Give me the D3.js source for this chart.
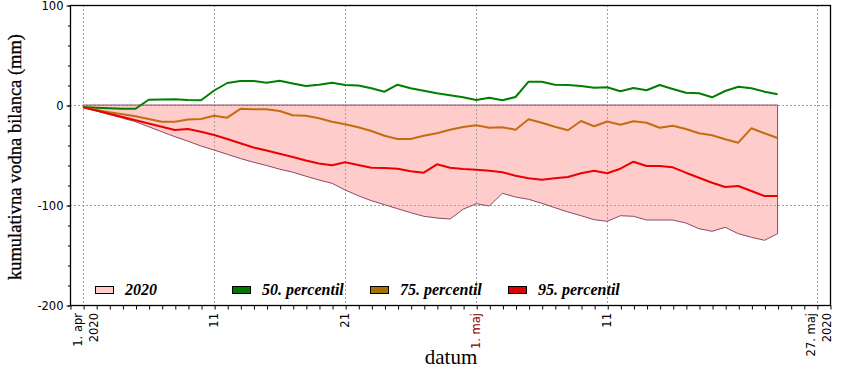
<!DOCTYPE html>
<html>
<head>
<meta charset="utf-8">
<script src="https://cdn.jsdelivr.net/npm/d3@7"></script>
<style>
  body { margin: 0; background: #fff; }
  svg { display: block; }
</style>
</head>
<body>
<div id="graf"></div>
<script>
// podatki: 1. apr 2020 .. 24. maj 2020, en podatek na dan
const zacetek = Date.UTC(2020, 3, 1);
const leto2020 = [-2.3, -5.9, -9.5, -13.1, -16.7, -21.7, -26.7, -31.7, -36.2, -41,
  -45, -49.3, -53.5, -57.2, -60.5, -64.2, -67.2, -71.2, -75, -78.3,
  -85, -90.7, -95.7, -99.7, -103.7, -107.7, -111.3, -113, -114, -104.3,
  -98.7, -101, -88.3, -92, -94.3, -98.3, -102.7, -107, -110.7, -114.7,
  -116.3, -110.7, -111.3, -115, -115, -115, -118, -123.7, -126.3, -122.3,
  -128.7, -132.3, -135.3, -128.7];
const p50 = [-2, -2.7, -3.3, -3.7, -3.7, 5.3, 5.5, 5.8, 5, 4.7,
  14.5, 22, 24, 24, 22.3, 24.3, 21.5, 19, 20.3, 22.3,
  20, 19.5, 16.7, 13.3, 20.3, 16.7, 14.2, 11.7, 9.7, 7.7,
  5, 7.3, 4.7, 8, 23.3, 23.3, 20.3, 20, 19, 17.3,
  17.7, 13.7, 17, 14.7, 20, 16, 12.3, 11.7, 7.7, 14,
  18.3, 16.7, 13.3, 10.7];
const p75 = [-2.3, -5, -7.3, -9.3, -11.2, -14, -16.7, -16.7, -14.5, -14,
  -10.8, -12.7, -3.8, -4.2, -4.3, -6, -10.2, -10.7, -13.3, -16.7,
  -19.3, -22.2, -26, -30.7, -34, -34, -30.7, -28.3, -24.7, -22,
  -20.3, -22.7, -22.3, -24.7, -14.3, -17.7, -21.7, -25.3, -16, -21.3,
  -16.5, -19.7, -16.3, -17.7, -22.7, -20.7, -24, -28.3, -30.3, -34.3,
  -37.7, -23.3, -28.3, -33];
const p95 = [-2.3, -5.5, -8.7, -12, -15.3, -18.5, -21.7, -25, -24, -26.7,
  -30, -34, -38.3, -42.5, -45.5, -48.8, -52, -55.5, -58.5, -60.3,
  -57.2, -60, -62.7, -63, -63.7, -66.3, -67.7, -59.3, -62.7, -64,
  -64.7, -65.7, -67.3, -70.7, -73.3, -74.7, -73.3, -72, -68.3, -65.7,
  -68.2, -63.7, -56.7, -61, -61, -62.3, -67.7, -72.7, -77.7, -82,
  -81, -86, -91, -91];

// oznake na osi x
const oznakeX = [
  { dan: Date.UTC(2020, 3, 1), vrstice: ["1. apr", "2020"], barva: "#000" },
  { dan: Date.UTC(2020, 3, 11), vrstice: ["11"], barva: "#000" },
  { dan: Date.UTC(2020, 3, 21), vrstice: ["21"], barva: "#000" },
  { dan: Date.UTC(2020, 4, 1), vrstice: ["1. maj"], barva: "#800000" },
  { dan: Date.UTC(2020, 4, 11), vrstice: ["11"], barva: "#000" },
  { dan: Date.UTC(2020, 4, 27), vrstice: ["27. maj", "2020"], barva: "#000" }
];
const oznakeY = [100, 0, -100, -200];

const legenda = [
  { ime: "2020", barva: "#ffcccc" },
  { ime: "50. percentil", barva: "#007800" },
  { ime: "75. percentil", barva: "#a87000" },
  { ime: "95. percentil", barva: "#e00000" }
];

// mere
const sirina = 850, visina = 370;
const levo = 70, desno = 830, zgoraj = 5, spodaj = 305;

const svg = d3.select("#graf").append("svg")
  .attr("width", sirina).attr("height", visina);

const x = d3.scaleUtc()
  .domain([new Date(Date.UTC(2020, 2, 31)), new Date(Date.UTC(2020, 4, 28))])
  .range([levo, desno]);
const y = d3.scaleLinear().domain([-200, 100]).range([spodaj, zgoraj]);

const dan = i => new Date(zacetek + i * 86400000);

// površina 2020
const povrsina = d3.area()
  .x((d, i) => x(dan(i)))
  .y0(y(0))
  .y1(d => y(d));
svg.append("path")
  .datum(leto2020)
  .attr("d", povrsina)
  .attr("fill", "#ffcccc")
  .attr("stroke", "none");

// mreža
const mreza = svg.append("g")
  .attr("stroke", "#a0a0a0")
  .attr("stroke-dasharray", "2,2")
  .attr("stroke-width", 1);
mreza.selectAll(".mx")
  .data(oznakeX)
  .join("line")
    .attr("x1", d => Math.round(x(new Date(d.dan))) + 0.5)
    .attr("x2", d => Math.round(x(new Date(d.dan))) + 0.5)
    .attr("y1", zgoraj).attr("y2", spodaj);
mreza.selectAll(".my")
  .data([0, -100])
  .join("line")
    .attr("x1", levo).attr("x2", desno)
    .attr("y1", d => y(d) + 0.5).attr("y2", d => y(d) + 0.5);

// obroba površine
svg.append("path")
  .datum(leto2020)
  .attr("d", povrsina)
  .attr("fill", "none")
  .attr("stroke", "#8a4a64")
  .attr("stroke-width", 1);

// črte percentilov
const crta = d3.line()
  .x((d, i) => x(dan(i)))
  .y(d => y(d));
[[p50, "#007f00"], [p75, "#c46c12"], [p95, "#ee0000"]].forEach(([niz, barva]) => {
  svg.append("path")
    .datum(niz)
    .attr("d", crta)
    .attr("fill", "none")
    .attr("stroke", barva)
    .attr("stroke-width", 2)
    .attr("stroke-linejoin", "round");
});

// okvir
svg.append("rect")
  .attr("x", levo + 0.5).attr("y", zgoraj + 0.5)
  .attr("width", desno - levo).attr("height", spodaj - zgoraj)
  .attr("fill", "none").attr("stroke", "#000").attr("stroke-width", 1.3);

// os x: kljukice za vsak dan
const osX = svg.append("g")
  .attr("transform", `translate(0.5,${spodaj + 0.5})`)
  .call(d3.axisBottom(x).ticks(d3.utcDay.every(1)).tickSize(4).tickFormat(""));
osX.select(".domain").remove();
osX.selectAll("line").attr("stroke", "#000");

const napisi = svg.append("g")
  .attr("font-family", "DejaVu Sans, Verdana, sans-serif")
  .attr("font-size", "11.5px");
oznakeX.forEach(o => {
  const t = napisi.append("text")
    .attr("transform", `translate(${x(new Date(o.dan))},313) rotate(-90)`)
    .attr("text-anchor", "end")
    .attr("fill", o.barva);
  const zamiki = o.vrstice.length === 2 ? [-1.5, 14.5] : [4];
  o.vrstice.forEach((v, i) => {
    t.append("tspan").attr("x", 0).attr("y", zamiki[i]).text(v);
  });
});

// os y
const osY = svg.append("g")
  .attr("transform", `translate(${levo + 0.5},0.5)`)
  .call(d3.axisLeft(y).tickValues(d3.range(-200, 101, 20)).tickSize(2.5).tickFormat(""));
osY.select(".domain").remove();
osY.selectAll("line").attr("stroke", "#000");
svg.append("g")
  .attr("transform", `translate(${levo + 0.5},0.5)`)
  .call(d3.axisLeft(y).tickValues(oznakeY).tickSize(4).tickPadding(3).tickFormat(d => d))
  .call(g => g.select(".domain").remove())
  .call(g => g.selectAll("line").attr("stroke", "#000"))
  .call(g => g.selectAll("text")
    .attr("font-family", "DejaVu Sans, Verdana, sans-serif")
    .attr("font-size", "11.5px")
    .attr("fill", "#000"));

// naslovi osi
svg.append("text")
  .attr("x", 451).attr("y", 364)
  .attr("text-anchor", "middle")
  .attr("font-family", "Liberation Serif, Times New Roman, serif")
  .attr("font-size", "21px")
  .text("datum");
svg.append("text")
  .attr("transform", `translate(21,157) rotate(-90)`)
  .attr("text-anchor", "middle")
  .attr("font-family", "Liberation Serif, Times New Roman, serif")
  .attr("font-size", "18.5px")
  .attr("stroke", "#000")
  .attr("stroke-width", 0.3)
  .text("kumulativna vodna bilanca (mm)");

// legenda
const legX = [95, 232, 370, 508];
const leg = svg.append("g")
  .attr("font-family", "Liberation Serif, Times New Roman, serif")
  .attr("font-size", "16px")
  .attr("font-weight", "bold")
  .attr("font-style", "italic");
leg.selectAll("rect")
  .data(legenda)
  .join("rect")
    .attr("x", (d, i) => legX[i] + 0.5).attr("y", 286.5)
    .attr("width", 18).attr("height", 7)
    .attr("fill", d => d.barva)
    .attr("stroke", "#000").attr("stroke-width", 1);
leg.selectAll("text")
  .data(legenda)
  .join("text")
    .attr("x", (d, i) => legX[i] + 30).attr("y", 295)
    .text(d => d.ime);
</script>
</body>
</html>
